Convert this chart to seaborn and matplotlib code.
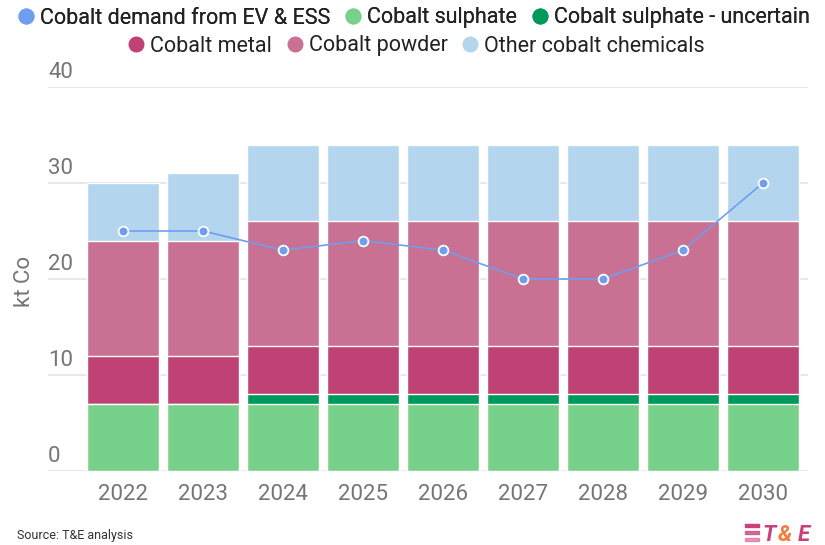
import matplotlib
matplotlib.use("Agg")
import matplotlib.pyplot as plt
import numpy as np
import pandas as pd
import seaborn as sns
from matplotlib.lines import Line2D
from matplotlib.patches import Rectangle

# Data (kt Co)
years = [2022, 2023, 2024, 2025, 2026, 2027, 2028, 2029, 2030]
sulphate = [7, 7, 7, 7, 7, 7, 7, 7, 7]
sulphate_uncertain = [0, 0, 1, 1, 1, 1, 1, 1, 1]
metal = [5, 5, 5, 5, 5, 5, 5, 5, 5]
powder = [12, 12, 13, 13, 13, 13, 13, 13, 13]
other = [6, 7, 8, 8, 8, 8, 8, 8, 8]
demand = [25, 25, 23, 24, 23, 20, 20, 23, 30]

y_ticks = [0, 10, 20, 30, 40]

c_demand = "#6f9ef0"
c_sulph = "#78d18b"
c_unc = "#00995c"
c_metal = "#c04174"
c_powder = "#c87192"
c_other = "#b3d6ee"
grey = "#757575"

sns.set_theme(style="white")
plt.rcParams["font.family"] = ["Roboto", "DejaVu Sans"]

df = pd.DataFrame({"year": years, "sulphate": sulphate, "unc": sulphate_uncertain,
                   "metal": metal, "powder": powder, "other": other})
df["c_sulph"] = df["sulphate"]
df["c_unc"] = df["c_sulph"] + df["unc"]
df["c_metal"] = df["c_unc"] + df["metal"]
df["c_powder"] = df["c_metal"] + df["powder"]
df["c_other"] = df["c_powder"] + df["other"]

fig = plt.figure(figsize=(8.25, 5.45), dpi=100)
ax = fig.add_axes([48 / 825, 1 - 471 / 545, 760 / 825, 384 / 545])

# stacked bars drawn as overlapping cumulative totals
for col, colr in [("c_other", c_other), ("c_powder", c_powder), ("c_metal", c_metal),
                  ("c_unc", c_unc), ("c_sulph", c_sulph)]:
    sns.barplot(data=df, x="year", y=col, color=colr, saturation=1, width=0.9,
                ax=ax, zorder=2)

sns.lineplot(x=np.arange(len(years)), y=demand, color=c_demand, linewidth=1.2,
             marker="o", markersize=7, markeredgecolor="white", markeredgewidth=1.3,
             ax=ax, zorder=4)

ax.set_xlim(-0.9375, 8.5625)
ax.set_ylim(0, 40)
ax.set_yticks(y_ticks)
ax.set_yticklabels([])
ax.tick_params(axis="y", length=0)
ax.tick_params(axis="x", length=0, pad=9, labelsize=16, labelcolor=grey)
ax.yaxis.grid(True, color="#e4e4e4", linewidth=1.2, zorder=0)
ax.set_axisbelow(True)
for s in ax.spines.values():
    s.set_visible(False)
ax.set_xlabel("")
ax.set_ylabel("")

for t in y_ticks:
    ax.annotate(str(t), xy=(0, t), xycoords=("axes fraction", "data"),
                xytext=(0, 3), textcoords="offset points", ha="left", va="bottom",
                fontsize=16, color=grey, annotation_clip=False)

fig.text(25 / 825, 1 - 281 / 545, "kt Co", rotation=90, ha="center", va="center",
         fontsize=16, color=grey)

def handle(c):
    return Line2D([], [], marker="o", linestyle="none", markersize=10.5,
                  markerfacecolor=c, markeredgecolor=c)

leg_kw = dict(loc="center", ncol=3, frameon=False, fontsize=15.5, handletextpad=0.15,
              columnspacing=0.55, handlelength=1, borderpad=0, borderaxespad=0)
leg1 = fig.legend([handle(c_demand), handle(c_sulph), handle(c_unc)],
                  ["Cobalt demand from EV & ESS", "Cobalt sulphate", "Cobalt sulphate - uncertain"],
                  bbox_to_anchor=(0.5, 1 - 18 / 545), **leg_kw)
for t in leg1.get_texts():
    t.set_color("#222222")
leg2 = fig.legend([handle(c_metal), handle(c_powder), handle(c_other)],
                  ["Cobalt metal", "Cobalt powder", "Other cobalt chemicals"],
                  bbox_to_anchor=(0.503, 1 - 46 / 545), **leg_kw)
for t in leg2.get_texts():
    t.set_color("#222222")
fig.add_artist(leg1)

fig.text(17 / 825, 1 - 535 / 545, "Source: T&E analysis", fontsize=9, color="#333333",
         ha="left", va="center")

# logo
for i, a in enumerate([1.0, 0.75, 0.5]):
    fig.patches.append(Rectangle((745 / 825, 1 - (527 + i * 7) / 545), 14 / 825, 3.5 / 545,
                                 transform=fig.transFigure, color="#c8417a", alpha=a))
fig.text(762 / 825, 1 - 535 / 545, "T", fontsize=16, fontweight="bold", fontstyle="italic",
         color="#c8417a", ha="left", va="center")
fig.text(778 / 825, 1 - 535 / 545, "&", fontsize=16, fontweight="bold", fontstyle="italic",
         color="#f47b3b", ha="left", va="center")
fig.text(798 / 825, 1 - 535 / 545, "E", fontsize=16, fontweight="bold", fontstyle="italic",
         color="#c8417a", ha="left", va="center")

fig.savefig("out.png", dpi=100)
